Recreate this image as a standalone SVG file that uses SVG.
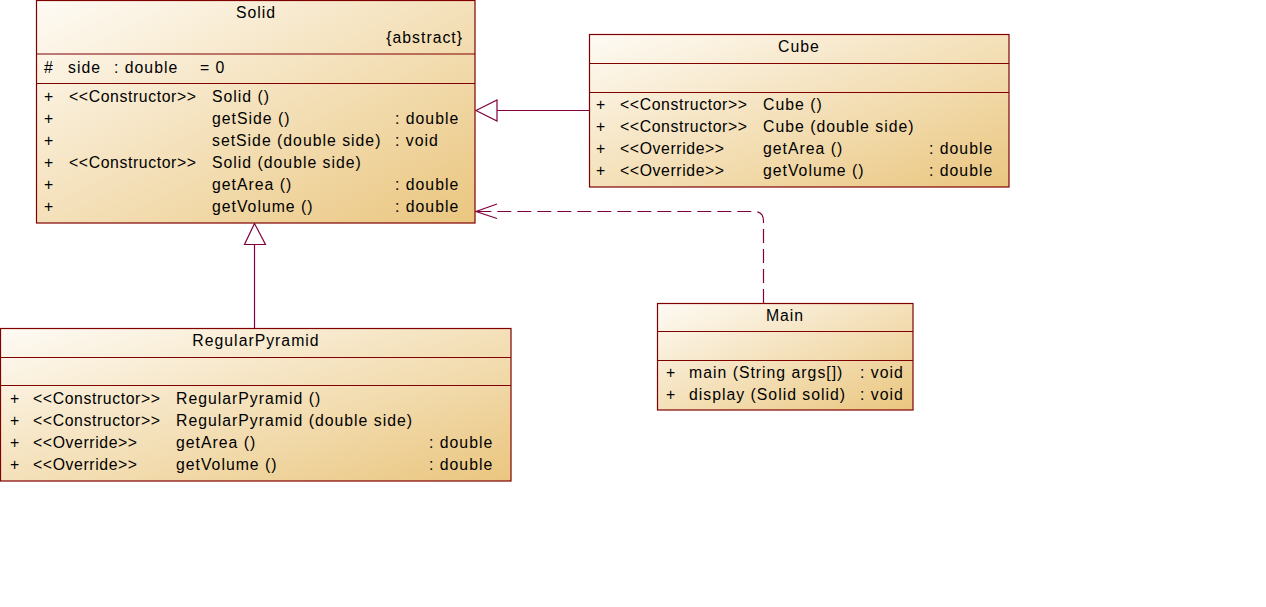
<svg xmlns="http://www.w3.org/2000/svg" width="1266" height="607" viewBox="0 0 1266 607">
<defs>
<linearGradient id="g" x1="0" y1="0" x2="1" y2="1">
<stop offset="0" stop-color="#fefbf5"/>
<stop offset="1" stop-color="#eac67f"/>
</linearGradient>
<style>
.box{fill:url(#g);stroke:#800000;stroke-width:1.2}
.div{stroke:#800000;stroke-width:1.2}
text{font-family:"Liberation Sans",Arial,sans-serif;font-size:15.8px;letter-spacing:1px;fill:#000}
.s{letter-spacing:0.6px}
.c{text-anchor:middle}
.e{text-anchor:end}
.ln{stroke:#80003c;stroke-width:1.2;fill:none}
.tri{stroke:#80003c;stroke-width:1.2;fill:#fff}
.dash{stroke-dasharray:14 6}
</style>
</defs>
<rect width="1266" height="607" fill="#fff"/>

<g id="connectors">
<path class="ln" d="M589,110.5 H497"/>
<polygon class="tri" points="476,110.5 497,100 497,121"/>
<path class="ln" d="M254.5,328 V244.5"/>
<polygon class="tri" points="254.5,223.5 244.5,244.5 265.5,244.5"/>
<path class="ln dash" d="M763.5,303 V221 Q763.5,211.5 754,211.5 H477"/>
<path class="ln" d="M497,204 L476,211.5 L497,218.5"/>
</g>

<g id="Solid">
<rect class="box" x="36.5" y="0.5" width="438.5" height="222.5"/>
<line class="div" x1="36.5" y1="54" x2="475" y2="54"/>
<line class="div" x1="36.5" y1="83.5" x2="475" y2="83.5"/>
<text class="c" x="256" y="18">Solid</text>
<text class="e" x="463" y="43">{abstract}</text>
<text x="44" y="73">#</text><text x="68" y="73">side</text><text x="114" y="73">: double</text><text x="200" y="73">= 0</text>
<text x="44" y="102">+</text><text class="s" x="69" y="102">&lt;&lt;Constructor&gt;&gt;</text><text x="212" y="102">Solid ()</text>
<text x="44" y="124">+</text><text x="212" y="124">getSide ()</text><text x="395" y="124">: double</text>
<text x="44" y="146">+</text><text x="212" y="146">setSide (double side)</text><text x="395" y="146">: void</text>
<text x="44" y="168">+</text><text class="s" x="69" y="168">&lt;&lt;Constructor&gt;&gt;</text><text x="212" y="168">Solid (double side)</text>
<text x="44" y="190">+</text><text x="212" y="190">getArea ()</text><text x="395" y="190">: double</text>
<text x="44" y="212">+</text><text x="212" y="212">getVolume ()</text><text x="395" y="212">: double</text>
</g>

<g id="Cube">
<rect class="box" x="589.5" y="34.5" width="419.5" height="152.5"/>
<line class="div" x1="589.5" y1="63.5" x2="1009" y2="63.5"/>
<line class="div" x1="589.5" y1="92.5" x2="1009" y2="92.5"/>
<text class="c" x="799" y="52">Cube</text>
<text x="596" y="110">+</text><text class="s" x="620" y="110">&lt;&lt;Constructor&gt;&gt;</text><text x="763" y="110">Cube ()</text>
<text x="596" y="132">+</text><text class="s" x="620" y="132">&lt;&lt;Constructor&gt;&gt;</text><text x="763" y="132">Cube (double side)</text>
<text x="596" y="154">+</text><text class="s" x="620" y="154">&lt;&lt;Override&gt;&gt;</text><text x="763" y="154">getArea ()</text><text x="929" y="154">: double</text>
<text x="596" y="176">+</text><text class="s" x="620" y="176">&lt;&lt;Override&gt;&gt;</text><text x="763" y="176">getVolume ()</text><text x="929" y="176">: double</text>
</g>

<g id="RegularPyramid">
<rect class="box" x="0.5" y="328.5" width="510.5" height="152.5"/>
<line class="div" x1="0.5" y1="357.5" x2="511" y2="357.5"/>
<line class="div" x1="0.5" y1="385.5" x2="511" y2="385.5"/>
<text class="c" x="256" y="346">RegularPyramid</text>
<text x="10" y="404">+</text><text class="s" x="33" y="404">&lt;&lt;Constructor&gt;&gt;</text><text x="176" y="404">RegularPyramid ()</text>
<text x="10" y="426">+</text><text class="s" x="33" y="426">&lt;&lt;Constructor&gt;&gt;</text><text x="176" y="426">RegularPyramid (double side)</text>
<text x="10" y="448">+</text><text class="s" x="33" y="448">&lt;&lt;Override&gt;&gt;</text><text x="176" y="448">getArea ()</text><text x="429" y="448">: double</text>
<text x="10" y="470">+</text><text class="s" x="33" y="470">&lt;&lt;Override&gt;&gt;</text><text x="176" y="470">getVolume ()</text><text x="429" y="470">: double</text>
</g>

<g id="Main">
<rect class="box" x="657.5" y="303.5" width="255.5" height="106.5"/>
<line class="div" x1="657.5" y1="331.5" x2="913" y2="331.5"/>
<line class="div" x1="657.5" y1="360.5" x2="913" y2="360.5"/>
<text class="c" x="785" y="321">Main</text>
<text x="666" y="378">+</text><text x="689" y="378">main (String args[])</text><text x="860" y="378">: void</text>
<text x="666" y="400">+</text><text x="689" y="400">display (Solid solid)</text><text x="860" y="400">: void</text>
</g>
</svg>
